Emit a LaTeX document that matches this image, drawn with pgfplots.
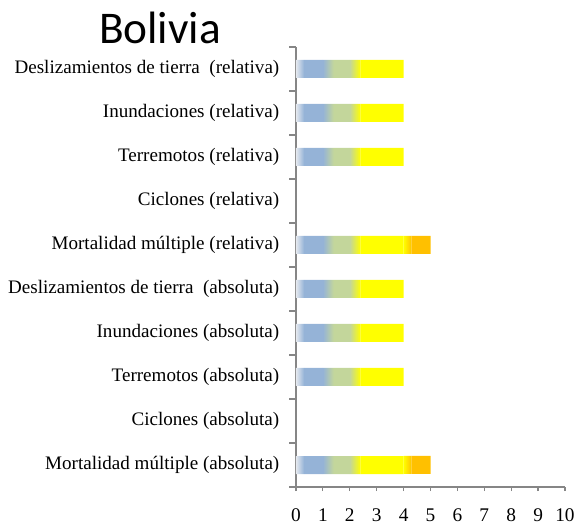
\documentclass[border=0pt]{standalone}
\usepackage{fontspec}
\setmainfont{Liberation Serif}
\newfontfamily\titlefont{Carlito}
\usepackage{pgfplots}
\pgfplotsset{compat=1.18}
\usepackage{pgfplotstable}

\definecolor{cstart}{HTML}{E4E8EE}
\definecolor{cblue}{HTML}{95B3D7}
\definecolor{cgreen}{HTML}{C3D69B}
\definecolor{cyel}{HTML}{FFFF00}
\definecolor{corange}{HTML}{FFC000}
\definecolor{axgray}{HTML}{868686}

% segments of the bars (x lengths), y = category index (0 = bottom)
\pgfplotstableread{
y s1 s2 s3 s4 s5 s6
0 0.3 0.7 0.4 0.6 0.4 1.6
2 0.3 0.7 0.4 0.6 0.4 1.6
3 0.3 0.7 0.4 0.6 0.4 1.6
4 0.3 0.7 0.4 0.6 0.4 1.6
5 0.3 0.7 0.4 0.6 0.4 1.6
7 0.3 0.7 0.4 0.6 0.4 1.6
8 0.3 0.7 0.4 0.6 0.4 1.6
9 0.3 0.7 0.4 0.6 0.4 1.6
}\maindata
% last unit of the two bars that reach 5
\pgfplotstableread{
y base s7 s8
0 4.0 0.3 0.7
5 4.0 0.3 0.7
}\topdata

\pgfplotsset{
  common/.style={
    scale only axis, width=201.75pt, height=330pt,
    xmin=0, xmax=10, ymin=-0.5, ymax=9.5,
    at={(0,0)}, anchor=south west,
    xbar stacked, bar width=13.5pt,
  }
}

\begin{document}
\begin{tikzpicture}
\useasboundingbox (-222pt,-28.5pt) rectangle (209.25pt,365.25pt);
\begin{axis}[common,
  axis x line=bottom, axis y line=left,
  axis line style={axgray, line width=0.9pt, -},
  tick style={axgray, line width=0.9pt},
  tick align=outside,
  major tick length=3pt, minor tick length=5pt,
  every major y tick/.append style={draw=none},
  xtick={0,...,10},
  xticklabels={0,1,2,3,4,5,6,7,8,9,10},
  ytick={0,...,9},
  minor ytick={-0.5,0.5,...,9.5},
  yticklabels={Mortalidad múltiple (absoluta),Ciclones (absoluta),Terremotos (absoluta),Inundaciones (absoluta),Deslizamientos de tierra\ \ (absoluta),Mortalidad múltiple (relativa),Ciclones (relativa),Terremotos (relativa),Inundaciones (relativa),Deslizamientos de tierra\ \ (relativa)},
  yticklabel style={font=\fontsize{14.3}{17}\selectfont, anchor=east, xshift=-6pt},
  xticklabel style={font=\fontsize{14.5}{17}\selectfont, yshift=-10pt},
]
\addplot[draw=none, left color=cstart, right color=cblue] table[x=s1, y=y] {\maindata};
\addplot[draw=none, fill=cblue] table[x=s2, y=y] {\maindata};
\addplot[draw=none, left color=cblue, right color=cgreen] table[x=s3, y=y] {\maindata};
\addplot[draw=none, fill=cgreen] table[x=s4, y=y] {\maindata};
\addplot[draw=none, left color=cgreen, right color=cyel] table[x=s5, y=y] {\maindata};
\addplot[draw=none, fill=cyel] table[x=s6, y=y] {\maindata};
\end{axis}
\begin{axis}[common, hide axis]
\addplot[draw=none, fill=none] table[x=base, y=y] {\topdata};
\addplot[draw=none, left color=cyel, right color=corange] table[x=s7, y=y] {\topdata};
\addplot[draw=none, fill=corange] table[x=s8, y=y] {\topdata};
\end{axis}
\node[font=\titlefont\fontsize{34}{40}\selectfont] at (-102pt,344pt) {Bolivia};
\end{tikzpicture}
\end{document}
